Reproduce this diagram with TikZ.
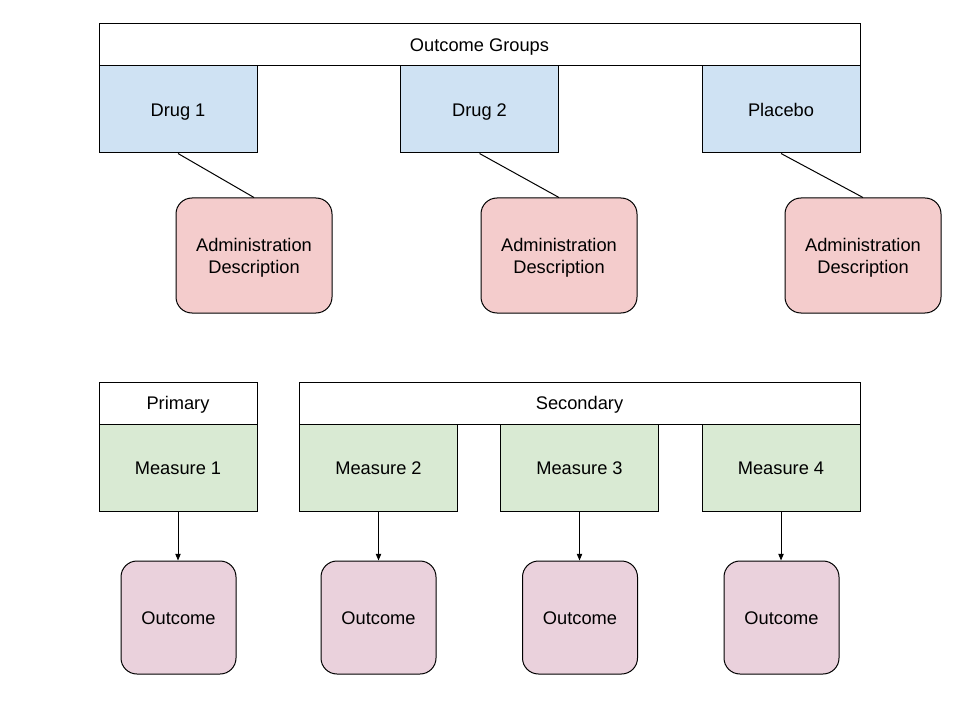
\documentclass[tikz,border=0pt]{standalone}
\usepackage{fontspec}
\setmainfont{Liberation Sans}
\usetikzlibrary{arrows.meta}
\definecolor{cblue}{HTML}{CFE2F3}
\definecolor{cred}{HTML}{F4CCCC}
\definecolor{cgreen}{HTML}{D9EAD3}
\definecolor{cpurple}{HTML}{EAD1DC}
\begin{document}
\begin{tikzpicture}[x=0.75pt,y=-0.75pt,
  font=\fontsize{13.7}{16.5}\selectfont,
  box/.style={draw=black,line width=0.75pt,inner sep=0pt,align=center},
  one/.style={text height=10pt,text depth=0pt},
  hdr/.style={box,one,fill=white},
  grp/.style={box,one,fill=cblue},
  adm/.style={box,fill=cred,rounded corners=12pt},
  meas/.style={box,one,fill=cgreen},
  outc/.style={box,one,fill=cpurple,rounded corners=12pt},
  conn/.style={draw=black,line width=0.75pt},
  arr/.style={conn,-{Triangle[length=5pt,width=4pt]}}]
\useasboundingbox (0,0) rectangle (960,720);
% top
\node[hdr,minimum width=761*0.75pt,minimum height=42*0.75pt] (og) at (479.5,45) {Outcome Groups};
\foreach \n/\x/\t in {d1/178/Drug 1,d2/479.5/Drug 2,pl/781/Placebo}{
  \node[grp,minimum width=158*0.75pt,minimum height=87*0.75pt] (\n) at (\x,109.5) {\t};
}
\foreach \n/\x in {a1/254,a2/559,a3/863}{
  \node[adm,minimum width=156*0.75pt,minimum height=115*0.75pt] (\n) at (\x,255.5) {Administration\\\raisebox{0pt}[\height][0pt]{Description}};
}
\draw[conn] (d1.south) -- (a1.north);
\draw[conn] (d2.south) -- (a2.north);
\draw[conn] (pl.south) -- (a3.north);
% bottom
\node[hdr,minimum width=158*0.75pt,minimum height=42*0.75pt] (pr) at (178,403) {Primary};
\node[hdr,minimum width=561*0.75pt,minimum height=42*0.75pt] (se) at (579.5,403) {Secondary};
\foreach \n/\x/\t in {m1/178/Measure 1,m2/378.5/Measure 2,m3/579.5/Measure 3,m4/781/Measure 4}{
  \node[meas,minimum width=158*0.75pt,minimum height=87*0.75pt] (\n) at (\x,467.5) {\t};
}
\foreach \n/\x in {o1/178.5,o2/378.5,o3/580,o4/781.5}{
  \node[outc,minimum width=115*0.75pt,minimum height=113*0.75pt] (\n) at (\x,617.5) {Outcome};
}
\draw[arr] (m1.south) -- (m1.south |- o1.north);
\draw[arr] (m2.south) -- (m2.south |- o2.north);
\draw[arr] (m3.south) -- (m3.south |- o3.north);
\draw[arr] (m4.south) -- (m4.south |- o4.north);
\end{tikzpicture}
\end{document}
